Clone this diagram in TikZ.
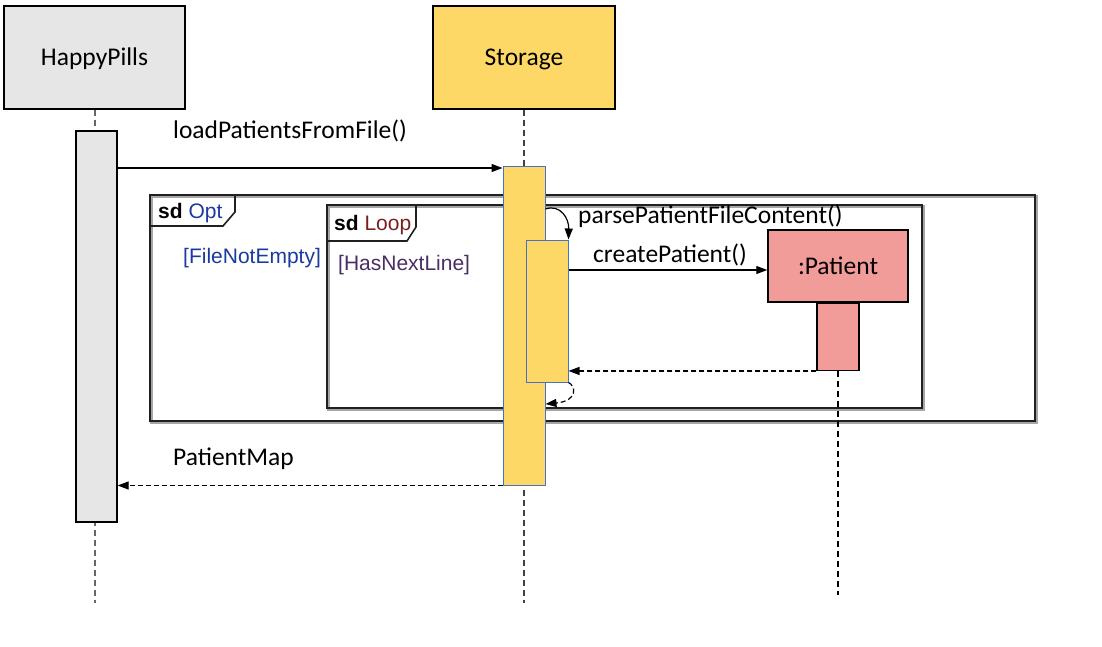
\documentclass[tikz,border=0pt]{standalone}
\usepackage{fontspec}
\setmainfont{Carlito}
\newfontfamily\arialf{Liberation Sans}
\usetikzlibrary{arrows.meta}
\definecolor{boxgray}{HTML}{E6E6E6}
\definecolor{stor}{HTML}{FDD867}
\definecolor{salmon}{HTML}{F19C99}
\definecolor{actblue}{HTML}{4472C4}
\definecolor{optblue}{HTML}{1A3A9E}
\definecolor{loopred}{HTML}{7A1F1F}
\definecolor{hasnext}{HTML}{4A2D62}
\definecolor{framedark}{HTML}{202020}
\tikzset{
  lbl/.style={font=\fontsize{25.5}{30}\selectfont, inner sep=0pt},
  sdlbl/.style={font=\arialf\fontsize{21}{24}\selectfont, inner sep=0pt},
  objbox/.style={draw=black, line width=1.5pt, inner sep=0pt, text height=16.3pt, text depth=0pt, font=\fontsize{25.5}{30}\selectfont},
  actbar/.style={draw=black, line width=1.2pt, inner sep=0pt, minimum width=41pt},
  stbar/.style={draw=actblue, fill=stor, line width=1pt, inner sep=0pt, minimum width=42pt},
  lifeline/.style={dashed, dash pattern=on 6pt off 4pt, line width=1.2pt},
  msg/.style={line width=1.2pt, -{Triangle[length=11pt,width=8pt]}},
  ret/.style={line width=1.2pt, dash pattern=on 5pt off 3pt, -{Triangle[length=11pt,width=8pt]}},
  framebox/.style={draw=framedark, line width=2.6pt},
  frameshadow/.style={draw=black!35, line width=2.6pt},
  tabline/.style={draw=framedark, line width=1.6pt}
}
\begin{document}
\begin{tikzpicture}[x=1pt,y=-1pt]
\useasboundingbox (0,0) rectangle (1102,647);
% lifeline heads
\node[objbox, fill=boxgray, minimum width=181pt, minimum height=103pt] (hp) at (94.5,57.5) {HappyPills};
\node[objbox, fill=stor, minimum width=182pt, minimum height=103pt] (st) at (524,57.5) {Storage};
% frames (behind activations)
\draw[frameshadow] (151.5,196.5) rectangle (1036.5,422.5);
\draw[framebox] (150,195) rectangle (1035,421);
\draw[tabline] (150,226) -- (223,226) -- (235,212) -- (235,195);
\draw[frameshadow] (328.5,206.5) rectangle (923.5,409.5);
\draw[framebox] (327,205) rectangle (922,408);
\draw[tabline] (327,241) -- (407,241) -- (416,227) -- (416,205);
\node[sdlbl, anchor=base west] (optlbl) at (158,218) {\textbf{sd} \textcolor{optblue}{Opt}};
\node[sdlbl, anchor=base west, text=optblue] (optg) at (183,263) {[FileNotEmpty]};
\node[sdlbl, anchor=base west] (looplbl) at (334,230) {\textbf{sd} \textcolor{loopred}{Loop}};
\node[sdlbl, anchor=base west, text=hasnext] (loopg) at (338,270) {[HasNextLine]};
% lifelines
\coordinate (hpend) at (95,603);
\coordinate (stend) at (524,603);
\coordinate (paend) at (838,595);
\draw[lifeline, draw=black!60] (hp.south -| 95,0) -- (hpend);
\draw[lifeline, draw=black!75] (st.south) -- (stend);
% activations
\node[actbar, fill=boxgray, minimum height=391pt] (hpact) at (96.5,326.5) {};
\node[stbar, minimum height=318pt] (stact) at (524,326) {};
\node[stbar, minimum height=142pt] (stact2) at (547,311) {};
% Patient
\node[objbox, fill=salmon, minimum width=140pt, minimum height=72pt] (pat) at (838,266) {:Patient};
\node[actbar, fill=salmon, minimum width=42pt, minimum height=67pt, anchor=north] (patact) at (pat.south) {};
\draw[lifeline, draw=black] (patact.south) -- (paend);
% messages
\draw[msg] (hpact.east |- 0,168) -- (stact.west |- 0,168);
\node[lbl, anchor=base west] (m1) at (173,139) {loadPatientsFromFile()};
\draw[msg] (stact.east |- 0,209) .. controls (560,204) and (569,218) .. (stact2.north east);
\node[lbl, anchor=base west] (m2) at (578,223) {parsePatientFileContent()};
\draw[msg] (stact2.east |- 0,270) -- (pat.west |- 0,270);
\node[lbl, anchor=base west] (m3) at (593,262) {createPatient()};
\draw[ret] (patact.south west) -- (stact2.east |- patact.south west);
\draw[ret] (stact2.south east) .. controls (576,386) and (578,401) .. (stact.east |- 0,404);
\draw[ret] (stact.south west) -- (hpact.east |- stact.south west);
\node[lbl, anchor=base west] (m4) at (173,465) {PatientMap};
\end{tikzpicture}
\end{document}
